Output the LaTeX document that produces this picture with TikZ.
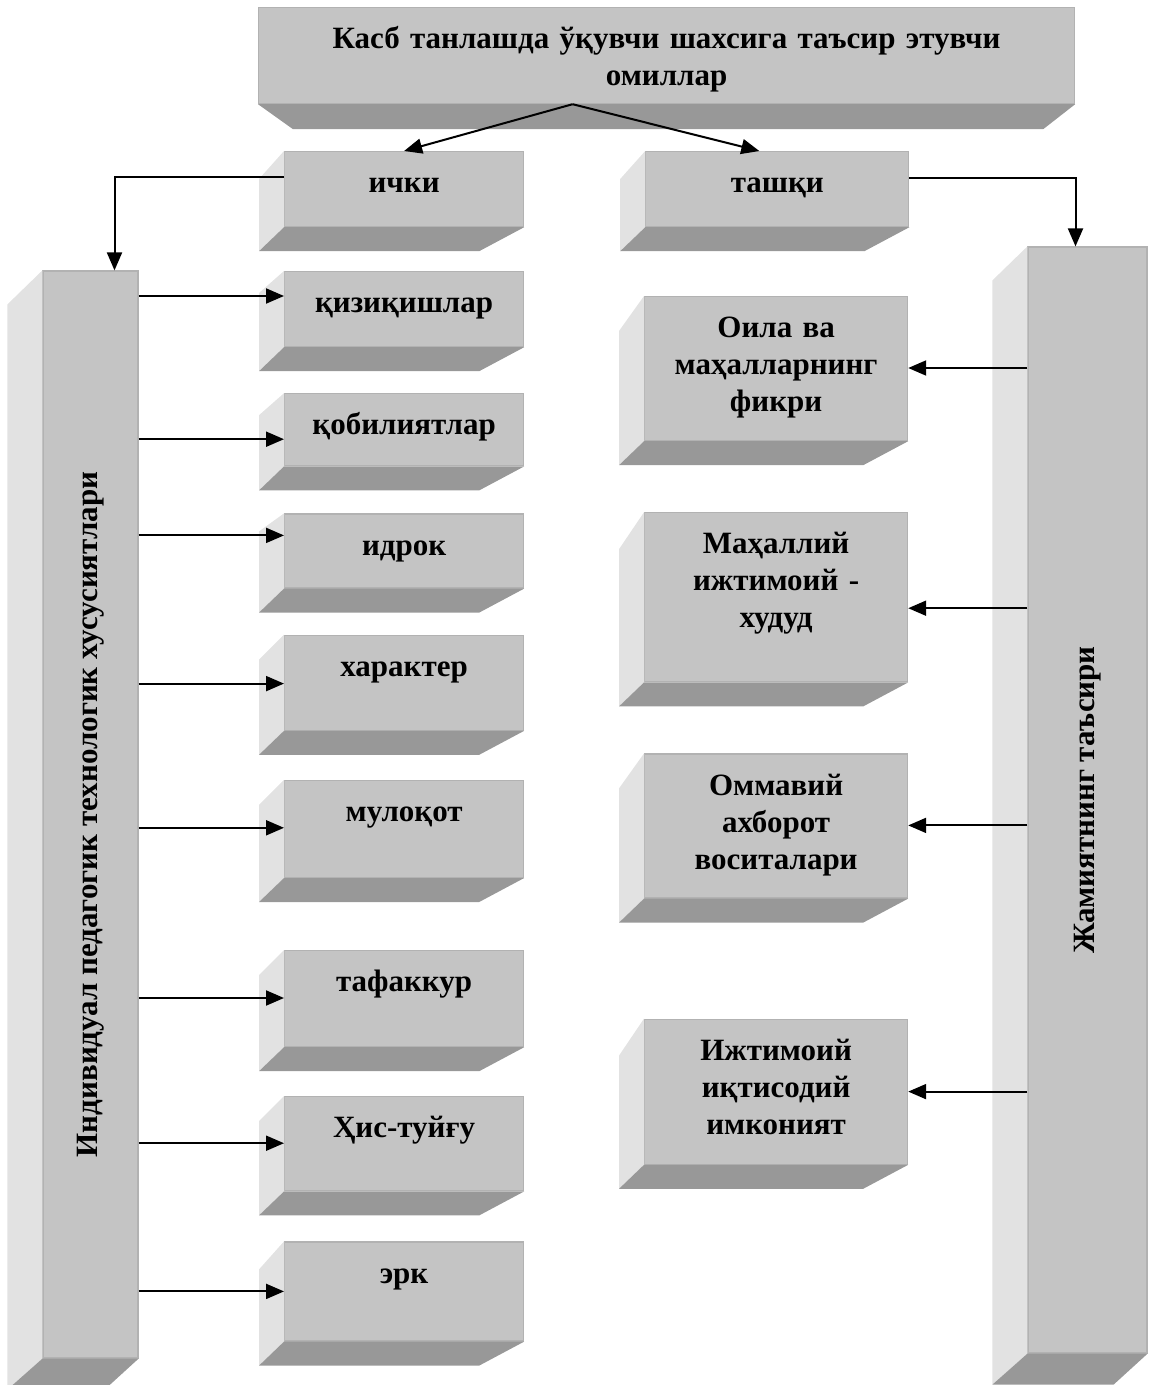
\documentclass[tikz,border=0pt]{standalone}
\usepackage{fontspec}
\usepackage{graphicx}
\setmainfont{Liberation Serif}
\usetikzlibrary{positioning, calc, arrows.meta}

\definecolor{frontgray}{HTML}{C4C4C4}
\definecolor{sidegray}{HTML}{E2E2E2}
\definecolor{shadegray}{HTML}{989898}
\definecolor{edgegray}{HTML}{B2B2B2}

\begin{document}
\begin{tikzpicture}[x=0.5pt, y=0.5pt,
    cube/.style={rectangle, fill=frontgray, draw=edgegray, line width=0.6pt, inner sep=0pt, align=center, anchor=north west,
        font=\fontsize{15.5pt}{18.5pt}\selectfont\bfseries, text height=20.5pt},
    pillar/.style={rectangle, fill=frontgray, draw=edgegray, line width=0.6pt, inner sep=0pt,
        font=\fontsize{15.5pt}{18.5pt}\selectfont\bfseries},
    link/.style={-{Triangle[length=9pt, width=7.5pt]}, line width=1pt},
]
    \useasboundingbox (0,0) rectangle (1149,-1385);

    % Nodes
    \node[cube, text width=408pt, text depth=27.5pt] (head) at (258,-7) {Касб танлашда ўқувчи шахсига таъсир этувчи\\омиллар};

    \node[cube, text width=119.5pt, text depth=17pt] (ichki) at (284,-151) {ички};
    \node[cube, text width=131.5pt, text depth=17pt, right=60.5pt of ichki] (tashqi) {ташқи};

    \node[cube, text width=119.5pt, text depth=17pt] (kiz) at (284,-271) {қизиқишлар};
    \node[cube, text width=119.5pt, text depth=15.5pt, below=23pt of kiz] (qob) {қобилиятлар};
    \node[cube, text width=119.5pt, text depth=16.5pt, below=23.5pt of qob] (idrok) {идрок};
    \node[cube, text width=119.5pt, text depth=27pt, below=23pt of idrok] (xarakter) {характер};
    \node[cube, text width=119.5pt, text depth=28pt, below=24.5pt of xarakter] (muloqot) {мулоқот};
    \node[cube, text width=119.5pt, text depth=27.5pt, below=36pt of muloqot] (tafakkur) {тафаккур};
    \node[cube, text width=119.5pt, text depth=26.5pt, below=24.5pt of tafakkur] (hissiyot) {Ҳис-туйғу};
    \node[cube, text width=119.5pt, text depth=29pt, below=25pt of hissiyot] (erk) {эрк};

    \node[cube, text width=131.5pt, text depth=51.5pt] (oila) at (644,-296) {Оила ва\\маҳалларнинг\\фикри};
    \node[cube, text width=131.5pt, text depth=64pt, below=35.5pt of oila] (mahalliy) {Маҳаллий\\ижтимоий -\\худуд};
    \node[cube, text width=131.5pt, text depth=51.5pt, below=35.5pt of mahalliy] (ommaviy) {Оммавий\\ахборот\\воситалари};
    \node[cube, text width=131.5pt, text depth=52pt, below=60pt of ommaviy] (ijtimoiy) {Ижтимоий\\иқтисодий\\имконият};

    \node[pillar, minimum width=47.5pt, minimum height=543.5pt] (inner) at (90.5,-814.5) {\rotatebox{90}{Индивидуал педагогик технологик хусусиятлари}};
    \node[pillar, minimum width=59.5pt, minimum height=553pt] (outer) at (1087.5,-800) {\rotatebox{90}{Жамиятнинг таъсири}};

    % Faces
    \foreach \n/\t in {ichki/28, tashqi/28, kiz/22, qob/22, idrok/18, xarakter/25, muloqot/25, tafakkur/25, hissiyot/25, erk/28, oila/35, mahalliy/37, ommaviy/35, ijtimoiy/37} {
        \fill[sidegray] (\n.north west) -- ++(-25,-\t) -- ($(\n.south west)+(-25,-24)$) -- (\n.south west) -- cycle;
        \fill[shadegray] (\n.south west) -- (\n.south east) -- ++(-45,-24) -- ($(\n.south west)+(-25,-24)$) -- cycle;
    }
    \foreach \n in {inner, outer} {
        \fill[sidegray] (\n.north west) -- ++(-35,-34) -- ($(\n.south west)+(-35,-31)$) -- (\n.south west) -- cycle;
        \fill[shadegray] (\n.south west) -- (\n.south east) -- ++(-34,-31) -- ($(\n.south west)+(-35,-31)$) -- cycle;
    }
    \fill[shadegray] (head.south west) -- (head.south east) -- ++(-32,-25) -- ($(head.south west)+(35,-25)$) -- cycle;

    % Lines
    \coordinate (fork) at ($(head.south)+(-94,0)$);
    \draw[link] (fork) -- (ichki.north);
    \draw[link] (fork) -- ($(tashqi.north)+(-18,0)$);

    \draw[link] ($(ichki.west)+(0,12)$) -| ($(inner.north)+(24,0)$);
    \draw[link] ($(tashqi.east)+(0,11)$) -| ($(outer.north)+(-12,0)$);

    \foreach \n/\o in {kiz/25, qob/46, idrok/22, xarakter/49, muloqot/48, tafakkur/48, hissiyot/47, erk/50} {
        \coordinate (tip) at ($(\n.north west)+(0,-\o)$);
        \draw[link] (inner.east |- tip) -- (tip);
    }
    \foreach \n/\o in {oila/72, mahalliy/96, ommaviy/72, ijtimoiy/73} {
        \coordinate (tip) at ($(\n.north east)+(0,-\o)$);
        \draw[link] (outer.west |- tip) -- (tip);
    }

\end{tikzpicture}
\end{document}
